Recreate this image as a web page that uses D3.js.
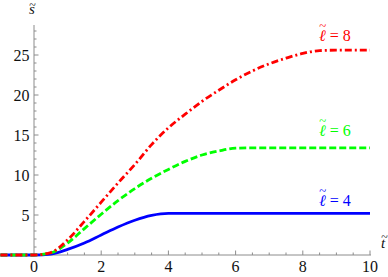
<!DOCTYPE html>
<html>
<head>
<meta charset="utf-8">
<script src="https://cdn.jsdelivr.net/npm/d3@7"></script>
<style>
  body { margin: 0; background: #fff; }
  svg { display: block; }
</style>
</head>
<body>
<div id="chart"></div>
<script>
/* Values */
const tValues = [-1, -0.5, 0, 0.5, 1, 1.5, 2, 2.5, 3, 3.5, 4, 4.5, 5, 5.5, 6,
                 6.5, 7, 7.5, 8, 8.5, 9, 9.5, 10];
const sL4 = [0, 0, 0, 0.12, 0.7, 1.5, 2.5, 3.5, 4.35, 4.95, 5.2, 5.2, 5.2, 5.2,
             5.2, 5.2, 5.2, 5.2, 5.2, 5.2, 5.2, 5.2, 5.2];
const sL6 = [0, 0, 0, 0.25, 1.5, 3.3, 5.1, 6.8, 8.3, 9.6, 10.7, 11.7, 12.5, 13.0,
             13.35, 13.4, 13.4, 13.4, 13.4, 13.4, 13.4, 13.4, 13.4];
const sL8 = [0, 0, 0, 0.3, 1.9, 4.2, 6.6, 9.0, 11.3, 13.8, 15.9, 17.6, 19.2, 20.6,
             21.9, 23.0, 23.9, 24.6, 25.2, 25.55, 25.6, 25.6, 25.6];
const seriesNames = ['4', '6', '8'];
const xTickLabels = [0, 2, 4, 6, 8, 10];
const yTickLabels = [5, 10, 15, 20, 25];

const width = 388, height = 277;
const serif = '"Liberation Serif"';

const svg = d3.select('#chart').append('svg')
  .attr('width', width)
  .attr('height', height);

// Scales
const x = d3.scaleLinear().domain([0, 10]).range([34, 370]);
const y = d3.scaleLinear().domain([0, 25]).range([255, 55]);

const axisColor = '#8c8c8c';

/* Write an italic letter with a tilde over it, plus optional plain text.
   lift: how far above the baseline the tilde sits, in em */
function tildeText(parent, px, py, letter, size, color, lift, rest) {
  const g = parent.append('g').attr('fill', color);
  const t = g.append('text')
    .attr('x', px).attr('y', py)
    .style('font-family', serif)
    .style('font-size', size + 'px');
  t.append('tspan').style('font-style', 'italic').text(letter);
  if (rest) t.append('tspan').text(rest);
  g.append('text')
    .attr('x', px + size * 0.24).attr('y', py - size * lift)
    .attr('text-anchor', 'middle')
    .style('font-family', serif)
    .style('font-size', (size * 0.8) + 'px')
    .text('~');
  return t;
}

/* Axes */
const axes = svg.append('g').attr('class', 'axes');

// x axis line, runs out to the left edge
axes.append('line')
  .attr('x1', x(-1)).attr('x2', x(10) + 1)
  .attr('y1', y(0)).attr('y2', y(0))
  .attr('stroke', axisColor).attr('stroke-width', 1);

// y axis line
axes.append('line')
  .attr('x1', x(0)).attr('x2', x(0))
  .attr('y1', y(0)).attr('y2', y(28.75))
  .attr('stroke', axisColor).attr('stroke-width', 1);

// minor ticks
const xMinor = d3.range(0.5, 10, 0.5).filter(v => v % 2 !== 0);
axes.selectAll('.xminor').data(xMinor).join('line')
  .attr('class', 'xminor')
  .attr('x1', d => x(d)).attr('x2', d => x(d))
  .attr('y1', y(0)).attr('y2', y(0) - 2.5)
  .attr('stroke', axisColor);

axes.selectAll('.xmajor').data(xTickLabels.filter(d => d !== 0)).join('line')
  .attr('class', 'xmajor')
  .attr('x1', d => x(d)).attr('x2', d => x(d))
  .attr('y1', y(0)).attr('y2', y(0) - 4.5)
  .attr('stroke', axisColor);

const yMinor = d3.range(1, 29).filter(v => v % 5 !== 0);
axes.selectAll('.yminor').data(yMinor).join('line')
  .attr('class', 'yminor')
  .attr('x1', x(0)).attr('x2', x(0) + 2.5)
  .attr('y1', d => y(d)).attr('y2', d => y(d))
  .attr('stroke', axisColor);

axes.selectAll('.ymajor').data(yTickLabels).join('line')
  .attr('class', 'ymajor')
  .attr('x1', x(0)).attr('x2', x(0) + 4.5)
  .attr('y1', d => y(d)).attr('y2', d => y(d))
  .attr('stroke', axisColor);

// tick labels
axes.selectAll('.xlabel').data(xTickLabels).join('text')
  .attr('class', 'xlabel')
  .attr('x', d => x(d))
  .attr('y', y(0) + 17)
  .attr('text-anchor', 'middle')
  .style('font-family', serif)
  .style('font-size', '16px')
  .attr('fill', '#111')
  .text(d => d);

axes.selectAll('.ylabel').data(yTickLabels).join('text')
  .attr('class', 'ylabel')
  .attr('x', x(0) - 4.5)
  .attr('y', d => y(d) + 5.5)
  .attr('text-anchor', 'end')
  .style('font-family', serif)
  .style('font-size', '16px')
  .attr('fill', '#111')
  .text(d => d);

// axis titles
tildeText(axes, 29, 14, 's', 15, '#111', 0.36);
tildeText(axes, 381, 248, 't', 15, '#111', 0.48);

/* Curves */
const styles = [
  { values: sL4, color: '#0000ff', dash: null },
  { values: sL6, color: '#00ff00', dash: '7,3' },
  { values: sL8, color: '#ff0000', dash: '7,3,2,3' },
];

const line = d3.line()
  .x(d => x(d[0]))
  .y(d => y(d[1]))
  .curve(d3.curveMonotoneX);

const curves = svg.append('g').attr('class', 'curves');
styles.forEach(s => {
  curves.append('path')
    .datum(tValues.map((t, i) => [t, s.values[i]]))
    .attr('d', line)
    .attr('fill', 'none')
    .attr('stroke', s.color)
    .attr('stroke-width', 2.8)
    .attr('stroke-dasharray', s.dash);
});

/* Curve labels */
const labelY = [206, 136, 41];
styles.forEach((s, i) => {
  tildeText(svg, 319, labelY[i], '\u2113', 16, s.color, 0.66, ' = ' + seriesNames[i]);
});
</script>
</body>
</html>
